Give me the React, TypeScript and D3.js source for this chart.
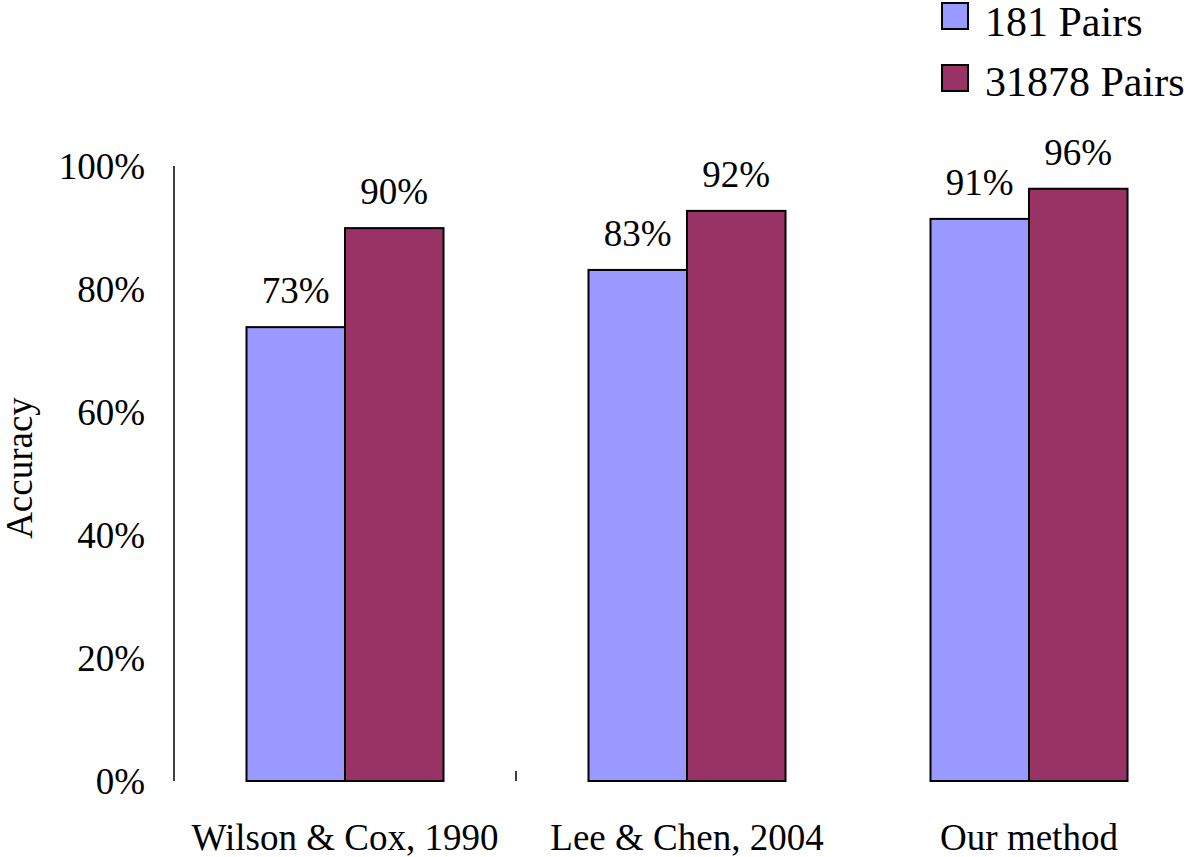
import { useEffect, useRef } from "react";
import * as d3 from "d3";

const categories = ["Wilson & Cox, 1990", "Lee & Chen, 2004", "Our method"];
const seriesNames = ["181 Pairs", "31878 Pairs"];
const seriesColors = ["#9999ff", "#993366"];
const values181 = [73.8, 83.1, 91.4];
const values31878 = [89.9, 92.7, 96.3];
const labels181 = ["73%", "83%", "91%"];
const labels31878 = ["90%", "92%", "96%"];
const yTicks = [0, 20, 40, 60, 80, 100];

const FONT = "'Liberation Serif', 'Times New Roman', serif";

const App = () => {
  const svgRef = useRef<SVGSVGElement>(null);
  const width = 1200;
  const height = 857;

  useEffect(() => {
    const svg = d3.select(svgRef.current);
    svg.selectAll("*").remove();

    const left = 174;
    const right = 1200;
    const top = 166;
    const bottom = 781;

    const x0 = d3.scaleBand().domain(categories).range([left, right]).padding(0);
    const x1 = d3
      .scaleBand()
      .domain(seriesNames)
      .range([0, x0.bandwidth()])
      .paddingInner(0)
      .paddingOuter(0.736);
    const y = d3.scaleLinear().domain([0, 100]).range([bottom, top]);

    const g = svg.append("g").attr("font-family", FONT).attr("fill", "#000");

    // y axis line
    g.append("line")
      .attr("x1", left)
      .attr("x2", left)
      .attr("y1", y(100))
      .attr("y2", y(0))
      .attr("stroke", "#000")
      .attr("stroke-width", 1.5);

    // y tick labels
    g.selectAll(".ytick")
      .data(yTicks)
      .enter()
      .append("text")
      .attr("class", "ytick")
      .attr("x", left - 29)
      .attr("y", (d) => y(d) + 13)
      .attr("text-anchor", "end")
      .attr("font-size", 37)
      .text((d) => `${d}%`);

    // single category separator tick, as in the original
    g.append("line")
      .attr("x1", x0(categories[1])!)
      .attr("x2", x0(categories[1])!)
      .attr("y1", y(0) - 10)
      .attr("y2", y(0))
      .attr("stroke", "#000")
      .attr("stroke-width", 1.5);

    // bars
    const series = [
      { name: seriesNames[0], values: values181, labels: labels181, color: seriesColors[0] },
      { name: seriesNames[1], values: values31878, labels: labels31878, color: seriesColors[1] },
    ];

    series.forEach((s) => {
      categories.forEach((c, i) => {
        const bx = x0(c)! + x1(s.name)!;
        g.append("rect")
          .attr("x", bx)
          .attr("y", y(s.values[i]))
          .attr("width", x1.bandwidth())
          .attr("height", y(0) - y(s.values[i]))
          .attr("fill", s.color)
          .attr("stroke", "#000")
          .attr("stroke-width", 2);

        g.append("text")
          .attr("x", bx + x1.bandwidth() / 2)
          .attr("y", y(s.values[i]) - 24)
          .attr("text-anchor", "middle")
          .attr("font-size", 37)
          .text(s.labels[i]);
      });
    });

    // category labels
    g.selectAll(".xlabel")
      .data(categories)
      .enter()
      .append("text")
      .attr("class", "xlabel")
      .attr("x", (d) => x0(d)! + x0.bandwidth() / 2)
      .attr("y", 850)
      .attr("text-anchor", "middle")
      .attr("font-size", 37)
      .text((d) => d);

    // y axis title
    g.append("text")
      .attr("transform", `translate(32,468) rotate(-90)`)
      .attr("text-anchor", "middle")
      .attr("font-size", 37)
      .text("Accuracy");

    // legend
    const legend = g.append("g").attr("transform", "translate(942,3)");
    seriesNames.forEach((name, i) => {
      legend
        .append("rect")
        .attr("x", 0)
        .attr("y", i * 62)
        .attr("width", 26)
        .attr("height", 26)
        .attr("fill", seriesColors[i])
        .attr("stroke", "#000")
        .attr("stroke-width", 2);
      legend
        .append("text")
        .attr("x", 43)
        .attr("y", i * 60 + 33)
        .attr("font-size", 42)
        .text(name);
    });
  }, []);

  return (
    <div style={{ position: "fixed", left: 0, top: 0, width, height, background: "#fff" }}>
      <svg ref={svgRef} width={width} height={height} style={{ display: "block" }} />
    </div>
  );
};

export default App;
